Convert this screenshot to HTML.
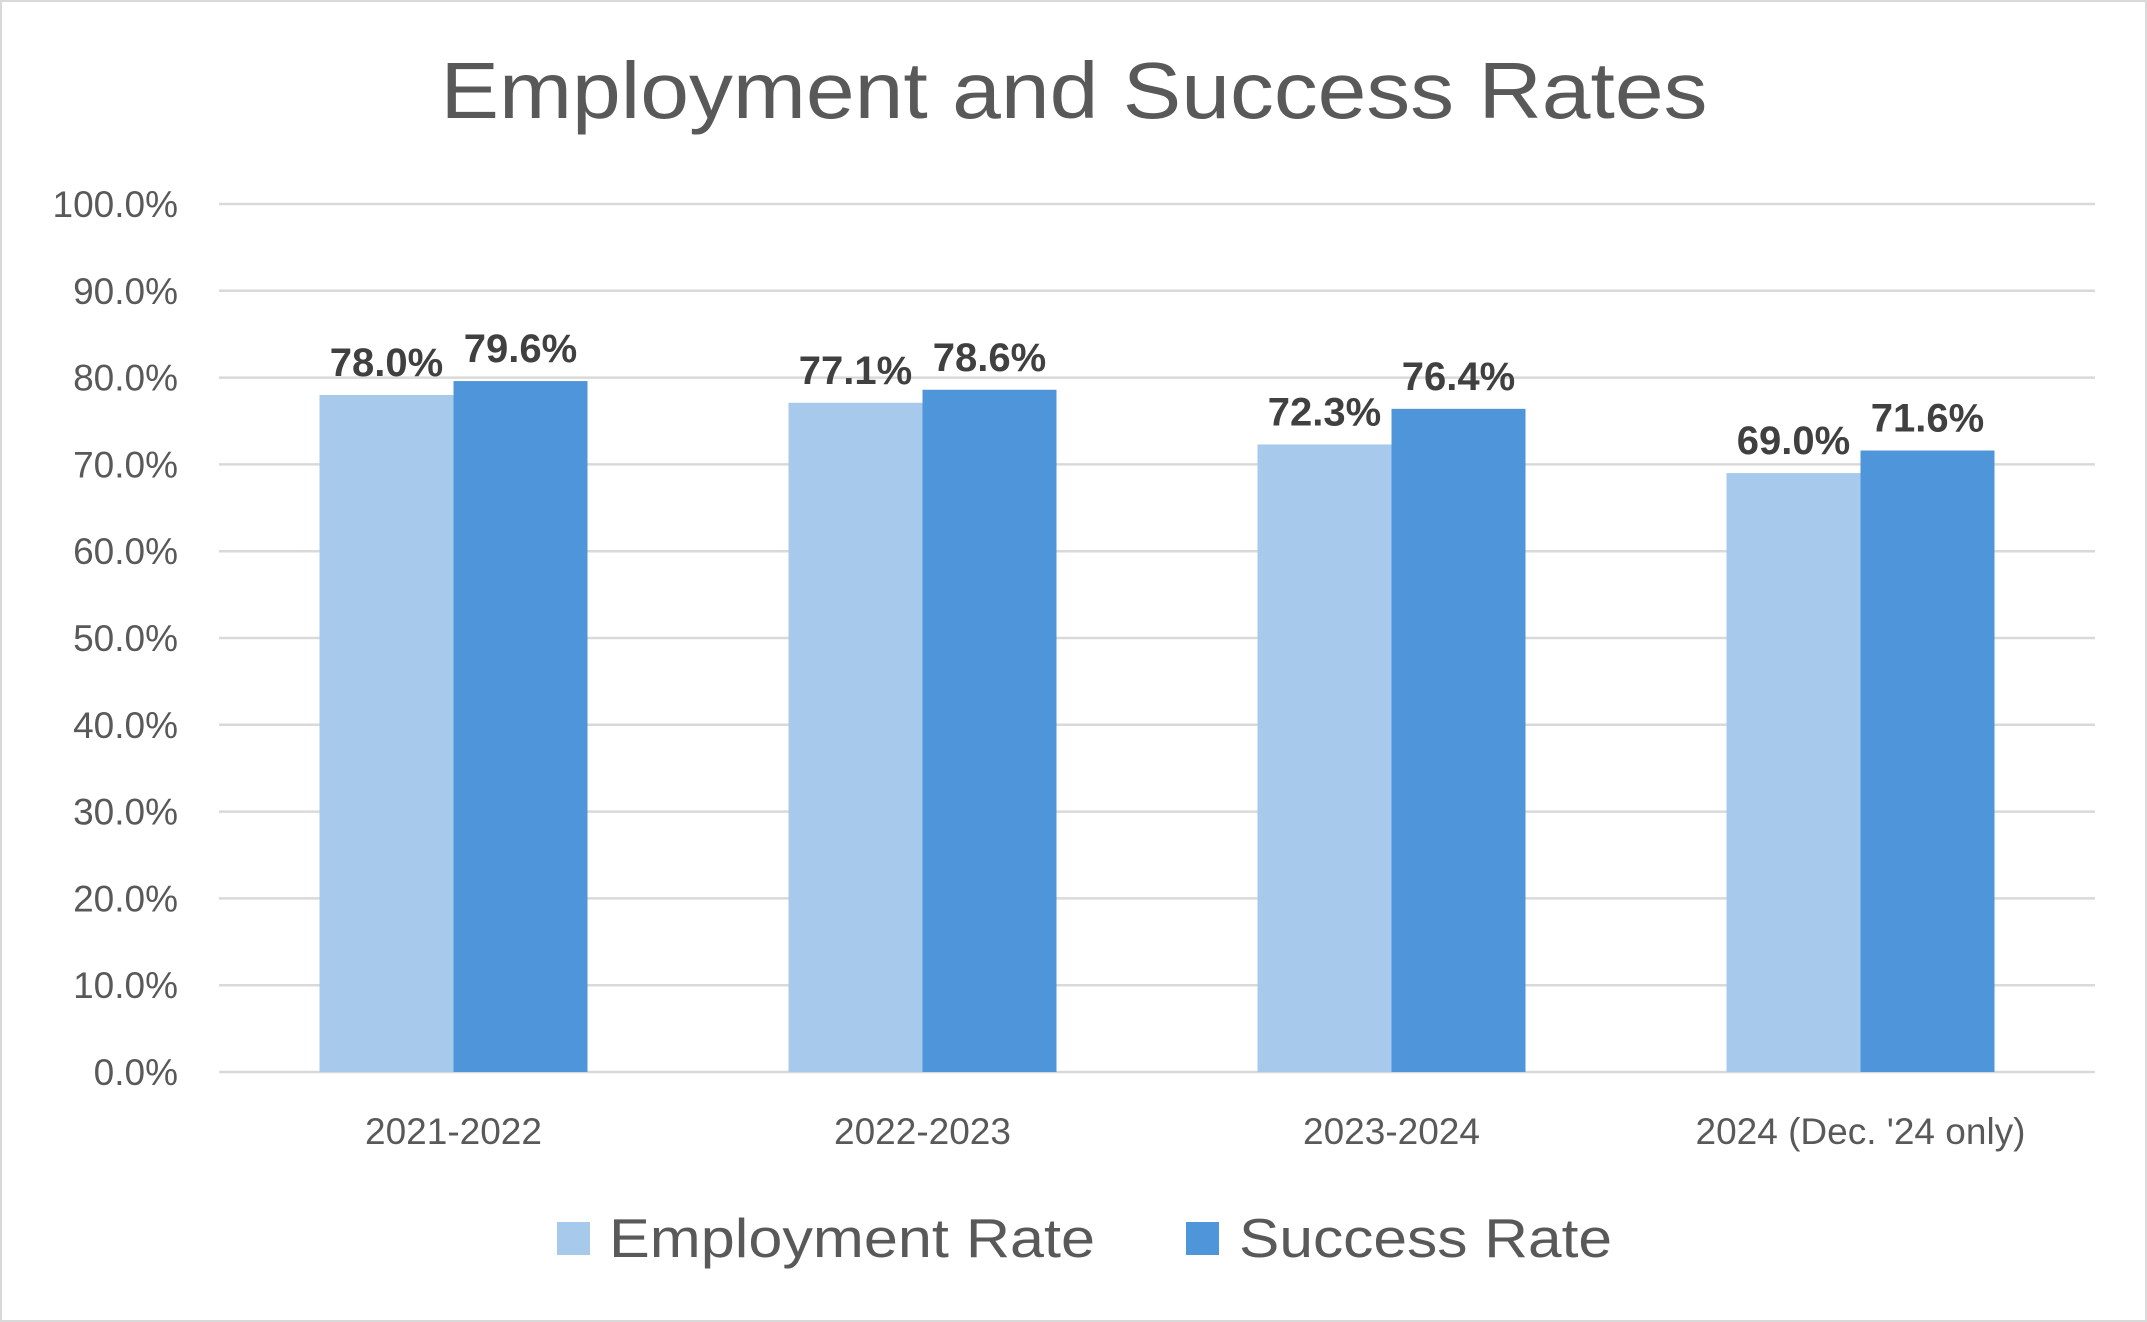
<!DOCTYPE html>
<html><head><meta charset="utf-8"><style>
html,body{margin:0;padding:0;background:#fff;}
svg{display:block;font-family:"Liberation Sans",Arial,sans-serif;}
</style></head><body>
<svg id="chart" width="2147" height="1322" viewBox="0 0 2147 1322">
<rect x="1" y="1" width="2145" height="1320" fill="#fff" stroke="#d9d9d9" stroke-width="2"/>
<text x="1074" y="118" text-anchor="middle" font-size="80" fill="#595959" textLength="1267" lengthAdjust="spacingAndGlyphs">Employment and Success Rates</text>
<g id="grid"></g><g id="bars"></g><g id="labels"></g>
<g>
<rect x="557" y="1222" width="33" height="33" fill="#A7CAEC"/>
<text x="609" y="1257" font-size="55" fill="#595959" textLength="486" lengthAdjust="spacingAndGlyphs">Employment Rate</text>
<rect x="1186" y="1222" width="33" height="33" fill="#4F95D9"/>
<text x="1239" y="1257" font-size="55" fill="#595959" textLength="373" lengthAdjust="spacingAndGlyphs">Success Rate</text>
</g>
</svg>
<script>
const categories = ["2021-2022","2022-2023","2023-2024","2024 (Dec. '24 only)"];
const employmentRate = [78.0,77.1,72.3,69.0];
const successRate = [79.6,78.6,76.4,71.6];
const yTicks = [0,10,20,30,40,50,60,70,80,90,100];

const NS="http://www.w3.org/2000/svg";
const plotL=219, plotR=2095, y0=1072, y100=204;
const yScale=v=>y0-(v/100)*(y0-y100);
const band=(plotR-plotL)/categories.length;
const barW=134;
function mk(tag,attrs,parent,text){const e=document.createElementNS(NS,tag);for(const k in attrs)e.setAttribute(k,attrs[k]);if(text!==undefined)e.textContent=text;parent.appendChild(e);return e;}
const grid=document.getElementById('grid'),bars=document.getElementById('bars'),labels=document.getElementById('labels');
yTicks.forEach(t=>{
  const y=yScale(t);
  const l=mk('line',{x1:plotL,x2:plotR,y1:y,y2:y,stroke:'#d9d9d9','stroke-width':2.5},grid);
  
  
  const tx=mk('text',{x:178,y:y+13,'text-anchor':'end','font-size':37,fill:'#595959'},grid,t.toFixed(1)+'%');
  
  
});
categories.forEach((c,i)=>{
  const cx=plotL+band*(i+0.5);
  [[employmentRate[i],'#A7CAEC',cx-barW,'employment'],[successRate[i],'#4F95D9',cx,'success']].forEach(([v,col,x,s])=>{
    const r=mk('rect',{x:x,y:yScale(v),width:barW,height:y0-yScale(v),fill:col},bars);
    
    
    const t=mk('text',{x:x+barW/2,y:yScale(v)-19,'text-anchor':'middle','font-size':40,'font-weight':'bold',fill:'#404040'},labels,v.toFixed(1)+'%');
    
    
  });
  const ct=mk('text',{x:cx,y:1144,'text-anchor':'middle','font-size':37,fill:'#595959'},labels,c);
  
  
});
</script>
</body></html>
